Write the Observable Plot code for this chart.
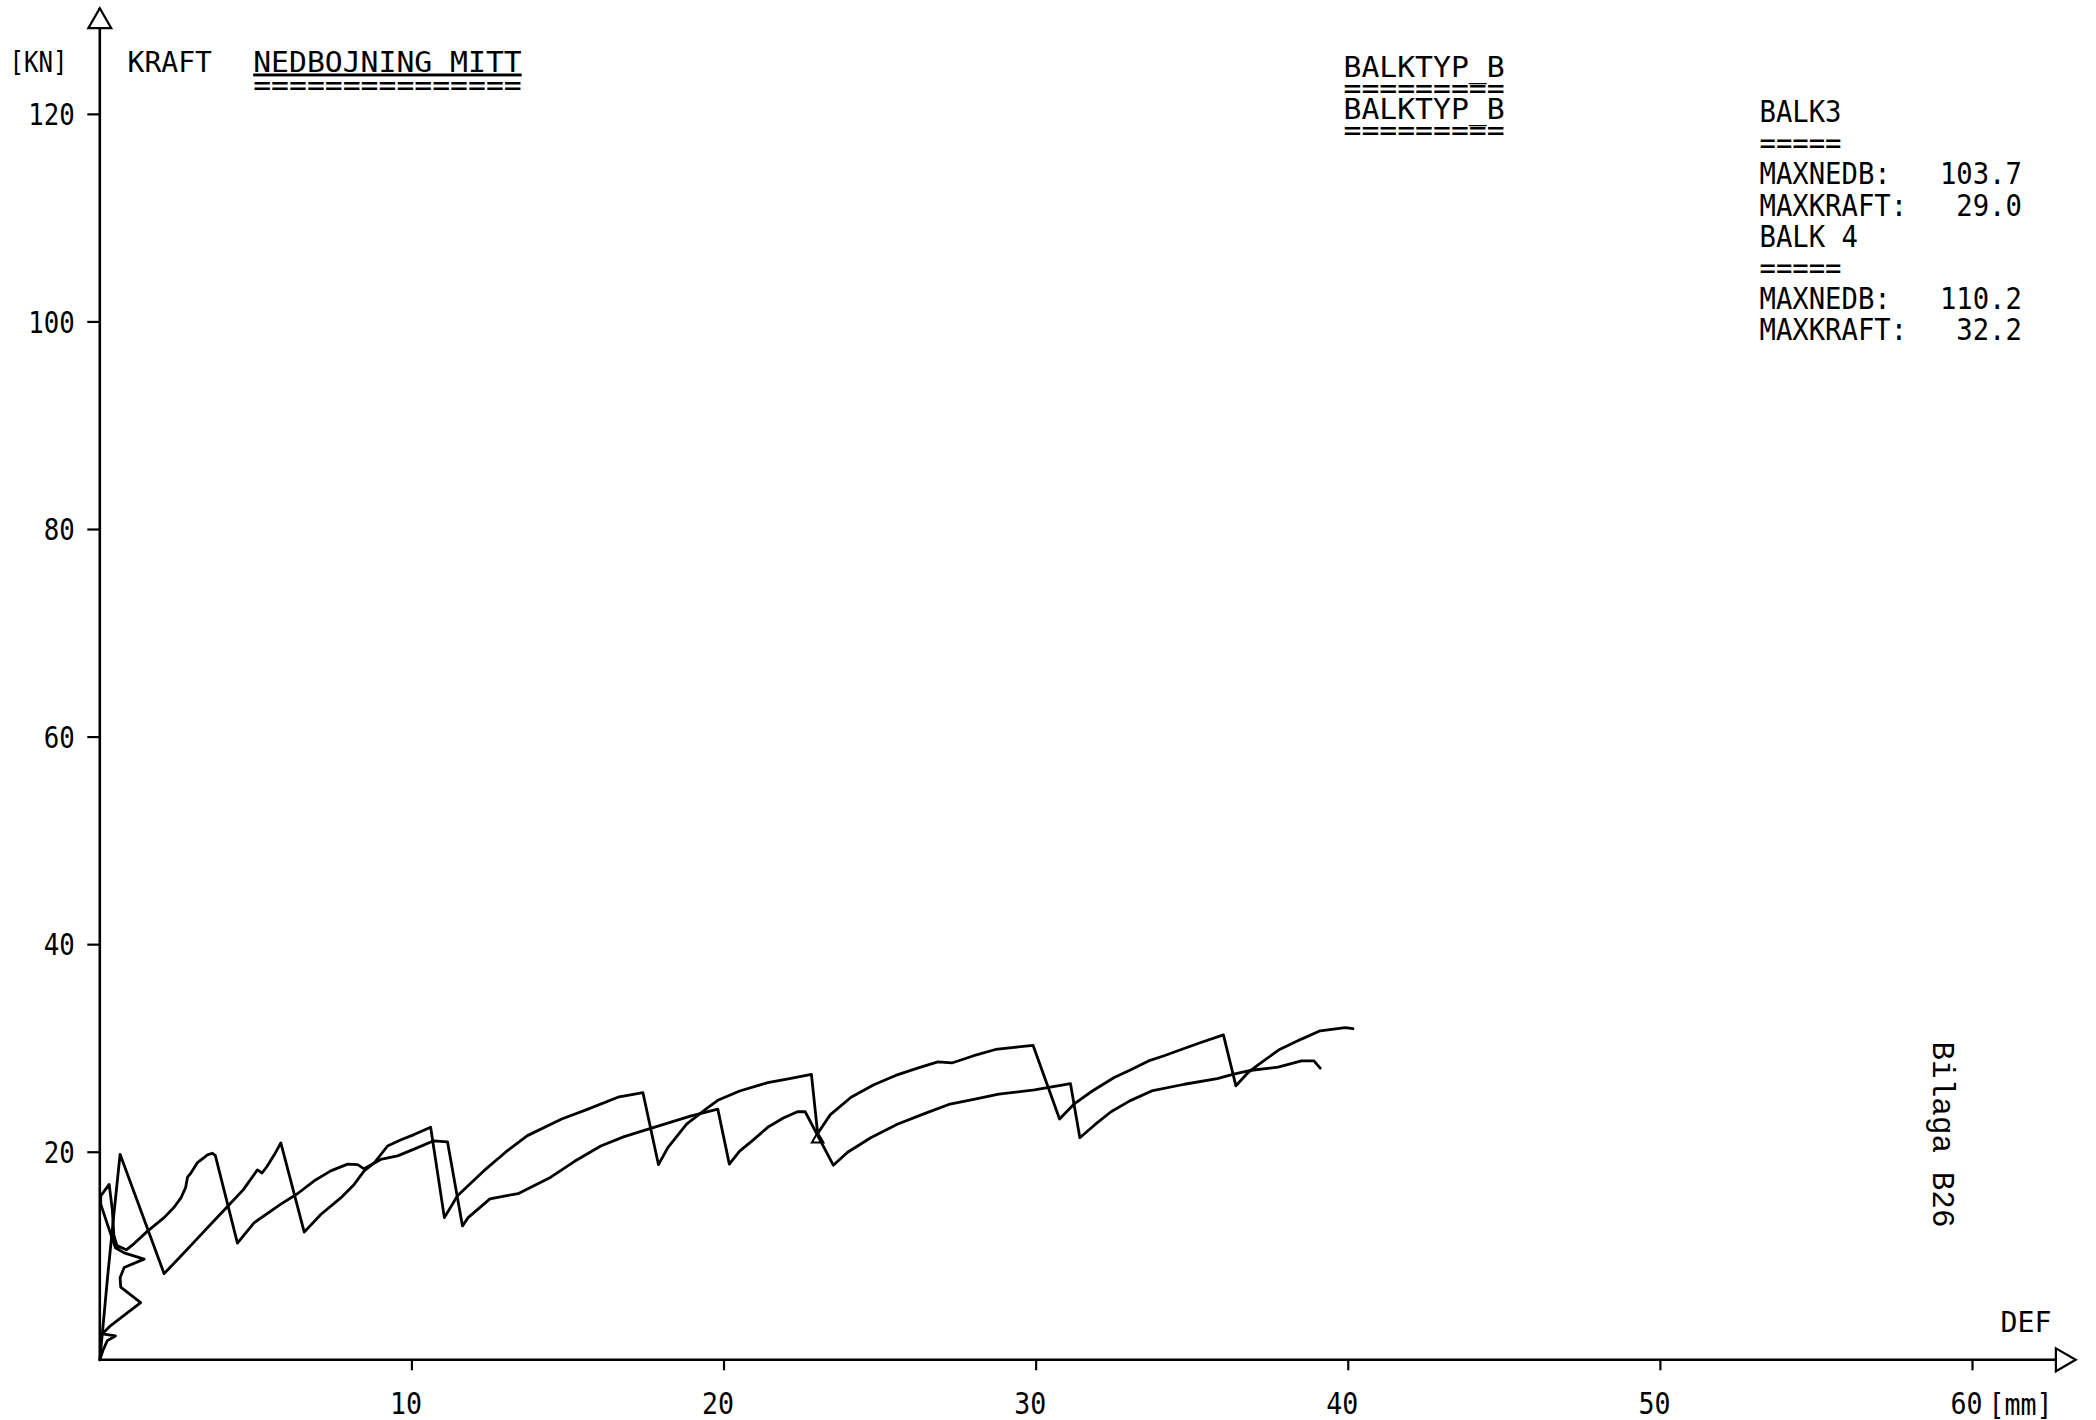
<!DOCTYPE html>
<html>
<head>
<meta charset="utf-8">
<script src="https://cdn.jsdelivr.net/npm/d3@7"></script>
<script src="https://cdn.jsdelivr.net/npm/@observablehq/plot@0.6"></script>
<style>
  html, body { margin: 0; padding: 0; background: #ffffff; }
  #chart svg { display: block; }
  #chart text, #chart tspan { white-space: pre; }
</style>
</head>
<body>
<div id="chart"></div>
<script>
// ---------- data ----------
const xTicks = [10, 20, 30, 40, 50, 60];
const yTicks = [20, 40, 60, 80, 100, 120];
const xAxisEnd = 63.3;   // DEF axis extent (mm)
const yAxisEnd = 130.2;  // KRAFT axis extent (kN)

// BALK 4 : deflection [mm], force [kN]
const balk4 = [
  [0,0],[0.08,2.5],[0.25,8],[0.45,14],[0.65,19.8],
  [2.06,8.3],
  [2.6,10.0],[3.1,11.6],[3.6,13.2],[4.1,14.8],[4.6,16.4],[5.05,18.3],[5.2,18.0],[5.35,18.6],[5.6,19.8],[5.8,20.9],
  [6.55,12.3],
  [7.08,14.0],[7.72,15.6],[8.15,16.9],[8.47,18.2],[8.8,19.0],[9.22,20.6],[9.65,21.2],[10.07,21.7],[10.6,22.4],
  [11.04,13.7],
  [11.46,15.8],[12.3,18.2],[13.0,20.0],[13.7,21.6],[14.8,23.2],[15.6,24.1],[16.6,25.3],[17.4,25.75],
  [17.9,18.8],
  [18.2,20.45],[18.8,22.7],[19.46,24.25],[19.8,25.0],[20.5,25.9],[21.4,26.7],[22.1,27.1],[22.8,27.5],
  [23.0,21.8],
  [23.4,23.6],[24.07,25.3],[24.8,26.5],[25.5,27.4],[26.2,28.1],[26.85,28.7],[27.3,28.6],[28.0,29.3],[28.7,29.9],[29.3,30.1],[29.9,30.3],
  [30.75,23.2],
  [31.2,24.6],[31.8,25.9],[32.5,27.2],[33.0,27.9],[33.6,28.8],[34.1,29.3],[34.65,29.9],[35.3,30.6],[36.0,31.3],
  [36.4,26.4],
  [36.8,27.7],[37.1,28.4],[37.8,29.9],[38.5,30.9],[39.1,31.7],[39.9,32.0],[40.15,31.9]
];

// BALK3 : deflection [mm], force [kN]
const balk3 = [
  [0,0],[0.1,0.9],[0.24,1.85],[0.5,2.3],[0.08,2.5],[0.35,3.3],[0.89,4.55],[1.31,5.5],[0.67,7.0],[0.65,7.9],
  [0.78,8.9],[1.42,9.7],[0.78,10.3],[0.5,10.8],[0.25,13.0],[0.03,15.0],[0.03,15.8],[0.3,16.9],[0.4,14.5],
  [0.45,12.0],[0.55,11.0],[0.85,10.6],[1.1,11.2],[1.53,12.4],[2.06,13.7],[2.38,14.7],[2.6,15.6],[2.75,16.6],
  [2.81,17.6],[2.92,18.0],[3.13,19.0],[3.45,19.75],[3.6,19.9],[3.7,19.7],
  [4.41,11.24],
  [4.94,13.2],[5.8,15.0],[6.33,16.0],[6.87,17.25],[7.4,18.2],[7.94,18.85],[8.26,18.8],[8.47,18.4],[9.0,19.3],
  [9.54,19.65],[10.07,20.3],[10.7,21.1],[11.14,21.0],
  [11.62,12.9],
  [11.8,13.7],[12.5,15.5],[13.0,15.8],[13.4,16.0],[14.45,17.6],[15.2,19.1],[16.05,20.6],[16.8,21.5],[17.65,22.3],
  [18.3,22.9],[18.95,23.5],[19.8,24.15],
  [20.17,18.85],
  [20.5,20.1],[20.9,21.1],[21.4,22.4],[21.9,23.3],[22.35,23.9],[22.6,23.9],
  [23.5,18.75],
  [23.96,20.0],[24.7,21.4],[25.55,22.7],[26.4,23.7],[27.2,24.6],[28.0,25.1],[28.8,25.6],[29.95,26.0],[30.5,26.3],[31.1,26.6],
  [31.4,21.4],
  [31.9,22.7],[32.4,23.9],[33.0,24.95],[33.7,25.9],[34.75,26.55],[35.8,27.1],[36.3,27.5],[36.9,27.9],[37.75,28.2],
  [38.5,28.8],[38.9,28.8],[39.1,28.1]
];

const markers = [[23.0, 21.26]];

const beamNames = ["BALK3", "BALK 4"];
const statLabels = ["MAXNEDB:", "MAXKRAFT:", "MAXNEDB:", "MAXKRAFT:"];
const statValues = ["103.7", "29.0", "110.2", "32.2"];

// ---------- text blocks ----------
const stat = (i) => statLabels[i].padEnd(11) + statValues[i].padStart(5);
const resultBlock = [beamNames[0], "=====", stat(0), stat(1), beamNames[1], "=====", stat(2), stat(3)].join("\n");
const typeBlock = ["BALKTYP_B", "=========", "BALKTYP_B", "========="].join("\n");
const titleBlock = ["NEDBOJNING MITT", "==============="].join("\n");

// ---------- styling helpers ----------
const mono = "DejaVu Sans Mono";
const ink = "black";
const label = (key, txt, opts) => Plot.text([txt], {
  text: d => d,
  frameAnchor: "top-left",
  textAnchor: "start",
  lineAnchor: "bottom",
  fill: ink,
  fontFamily: mono,
  fontSize: 28,
  ariaDescription: key,
  ...opts
});
// per-character advance (px) of the plotter lettering, by text group
const advances = { kn: 14.5, kraft: 16.9, nedb: 17.9, balktyp: 17.9, block: 16.4, ytick: 15.5, xtick: 16, unit: 16, def: 17 };

const chart = Plot.plot({
  width: 2096,
  height: 1420,
  marginLeft: 99.3,
  marginRight: 21,
  marginTop: 8,
  marginBottom: 60.7,
  x: { domain: [0, xAxisEnd] },
  y: { domain: [0, yAxisEnd] },
  style: { background: "white", color: ink, fontFamily: mono, fontSize: "28px" },
  marks: [
    // axis lines
    Plot.ruleX([0], { x: 0, y1: 0, y2: yAxisEnd, stroke: ink, strokeWidth: 2.6 }),
    Plot.ruleY([0], { y: 0, x1: 0, x2: xAxisEnd, stroke: ink, strokeWidth: 2.6 }),
    // tick marks
    Plot.axisY({ ticks: yTicks, tickSize: 12, tickFormat: () => "", stroke: ink, strokeWidth: 2.2, label: null }),
    Plot.axisX({ ticks: xTicks, tickSize: 11, tickFormat: () => "", stroke: ink, strokeWidth: 2.2, label: null }),
    // tick labels
    Plot.text(yTicks, { y: d => d, text: d => String(d), frameAnchor: "left", textAnchor: "end", lineAnchor: "middle",
      dx: -25, dy: 1, fill: ink, fontFamily: mono, fontSize: 30, ariaDescription: "ytick" }),
    Plot.text(xTicks, { x: d => d, text: d => String(d), frameAnchor: "bottom", textAnchor: "middle", lineAnchor: "bottom",
      dx: -6, dy: 54, fill: ink, fontFamily: mono, fontSize: 31, ariaDescription: "xtick" }),
    label("unit", "[mm]", { dx: 1888.7, dy: 1406, fontSize: 30 }),
    label("def", "DEF", { dx: 1951.7, dy: 1323, textAnchor: "end", fontSize: 29 }),
    // arrow heads
    Plot.dot([0], { x: 0, y: yAxisEnd, dy: 13, symbol: "triangle", r: 8.5, fill: "white", stroke: ink, strokeWidth: 2.2 }),
    Plot.dot([0], { x: xAxisEnd, y: 0, dx: -13, rotate: 90, symbol: "triangle", r: 8.5, fill: "white", stroke: ink, strokeWidth: 2.2 }),
    // curves
    Plot.line(balk3, { x: d => d[0], y: d => d[1], stroke: ink, strokeWidth: 2.8, strokeLinejoin: "round", strokeLinecap: "round" }),
    Plot.line(balk4, { x: d => d[0], y: d => d[1], stroke: ink, strokeWidth: 2.8, strokeLinejoin: "round", strokeLinecap: "round" }),
    Plot.dot(markers, { x: d => d[0], y: d => d[1], symbol: "triangle", r: 4.3, fill: "none", stroke: ink, strokeWidth: 2 }),
    // header texts
    label("kn", "[KN]", { dx: -32.3, dy: 63, textAnchor: "end" }),
    label("kraft", "KRAFT", { dx: 27.7, dy: 63 }),
    label("nedb", titleBlock, { dx: 153.4, dy: 86, fontSize: 29, lineHeight: 23 / 29 }),
    label("balktyp", typeBlock, { dx: 1243.7, dy: 131, fontSize: 29, lineHeight: 21 / 29 }),
    // results block
    label("block", resultBlock, { dx: 1659.7, dy: 331.9, fontSize: 31, lineHeight: 31.2 / 31 }),
    // side note
    label("bilaga", "Bilaga B26", { dx: 1832.7, dy: 1033, rotate: 90, fontFamily: "Liberation Mono", fontSize: 31 })
  ]
});
document.getElementById("chart").appendChild(chart);

// fit the lettering to the plotter's character pitch
const svg = d3.select(chart);
for (const [key, adv] of Object.entries(advances)) {
  svg.selectAll(`g[aria-description="${key}"] text`).each(function () {
    const spans = this.querySelectorAll("tspan");
    const targets = spans.length ? Array.from(spans) : [this];
    for (const el of targets) {
      const n = el.textContent.length;
      if (n) {
        el.setAttribute("textLength", n * adv);
        el.setAttribute("lengthAdjust", "spacingAndGlyphs");
      }
    }
  });
}
svg.select('g[aria-description="nedb"] text tspan').style("text-decoration", "underline");
</script>
</body>
</html>
